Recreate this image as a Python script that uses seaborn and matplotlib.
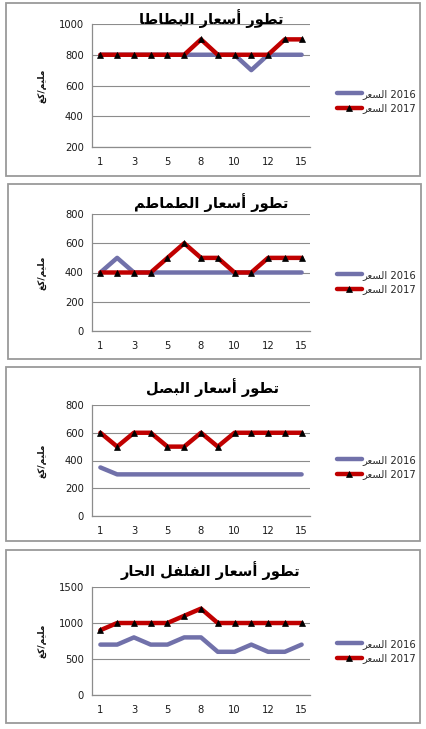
import re
import numpy as np
import pandas as pd
import seaborn as sns
import matplotlib
matplotlib.use("Agg")
import matplotlib.pyplot as plt
from matplotlib.patches import Rectangle

# ---------------------------------------------------------------- data
days = ["1", "2", "3", "4", "5", "7", "8", "9", "10", "11", "12", "14", "15"]
series_names = ["السعر 2016", "السعر 2017"]
y_label = "مليم/كغ"

titles = [
    "تطور أسعار البطاطا",
    "تطور أسعار الطماطم",
    "تطور أسعار البصل",
    "تطور أسعار الفلفل الحار",
]

potato_2016 = [800, 800, 800, 800, 800, 800, 800, 800, 800, 700, 800, 800, 800]
potato_2017 = [800, 800, 800, 800, 800, 800, 900, 800, 800, 800, 800, 900, 900]

tomato_2016 = [400, 500, 400, 400, 400, 400, 400, 400, 400, 400, 400, 400, 400]
tomato_2017 = [400, 400, 400, 400, 500, 600, 500, 500, 400, 400, 500, 500, 500]

onion_2016 = [350, 300, 300, 300, 300, 300, 300, 300, 300, 300, 300, 300, 300]
onion_2017 = [600, 500, 600, 600, 500, 500, 600, 500, 600, 600, 600, 600, 600]

pepper_2016 = [700, 700, 800, 700, 700, 800, 800, 600, 600, 700, 600, 600, 700]
pepper_2017 = [900, 1000, 1000, 1000, 1000, 1100, 1200, 1000, 1000, 1000, 1000, 1000, 1000]

y_ranges = [(200, 1000, 200), (0, 800, 200), (0, 800, 200), (0, 1500, 500)]

# ---------------------------------------------------------------- Arabic shaping
# (isolated, final, initial, medial) presentation forms; two entries = joins only to the right
FORMS = {
    "ا": (0xFE8D, 0xFE8E), "أ": (0xFE83, 0xFE84), "إ": (0xFE87, 0xFE88), "آ": (0xFE81, 0xFE82),
    "ب": (0xFE8F, 0xFE90, 0xFE91, 0xFE92), "ت": (0xFE95, 0xFE96, 0xFE97, 0xFE98),
    "ث": (0xFE99, 0xFE9A, 0xFE9B, 0xFE9C), "ج": (0xFE9D, 0xFE9E, 0xFE9F, 0xFEA0),
    "ح": (0xFEA1, 0xFEA2, 0xFEA3, 0xFEA4), "خ": (0xFEA5, 0xFEA6, 0xFEA7, 0xFEA8),
    "د": (0xFEA9, 0xFEAA), "ذ": (0xFEAB, 0xFEAC), "ر": (0xFEAD, 0xFEAE), "ز": (0xFEAF, 0xFEB0),
    "س": (0xFEB1, 0xFEB2, 0xFEB3, 0xFEB4), "ش": (0xFEB5, 0xFEB6, 0xFEB7, 0xFEB8),
    "ص": (0xFEB9, 0xFEBA, 0xFEBB, 0xFEBC), "ض": (0xFEBD, 0xFEBE, 0xFEBF, 0xFEC0),
    "ط": (0xFEC1, 0xFEC2, 0xFEC3, 0xFEC4), "ظ": (0xFEC5, 0xFEC6, 0xFEC7, 0xFEC8),
    "ع": (0xFEC9, 0xFECA, 0xFECB, 0xFECC), "غ": (0xFECD, 0xFECE, 0xFECF, 0xFED0),
    "ف": (0xFED1, 0xFED2, 0xFED3, 0xFED4), "ق": (0xFED5, 0xFED6, 0xFED7, 0xFED8),
    "ك": (0xFED9, 0xFEDA, 0xFEDB, 0xFEDC), "ل": (0xFEDD, 0xFEDE, 0xFEDF, 0xFEE0),
    "م": (0xFEE1, 0xFEE2, 0xFEE3, 0xFEE4), "ن": (0xFEE5, 0xFEE6, 0xFEE7, 0xFEE8),
    "ه": (0xFEE9, 0xFEEA, 0xFEEB, 0xFEEC), "و": (0xFEED, 0xFEEE),
    "ي": (0xFEF1, 0xFEF2, 0xFEF3, 0xFEF4), "ى": (0xFEEF, 0xFEF0), "ة": (0xFE93, 0xFE94),
}
LAM_ALEF = {"ا": (0xFEFB, 0xFEFC), "أ": (0xFEF7, 0xFEF8), "إ": (0xFEF9, 0xFEFA), "آ": (0xFEF5, 0xFEF6)}


def shape(text):
    out = []
    i = 0
    n = len(text)
    while i < n:
        c = text[i]
        if c not in FORMS:
            out.append(c)
            i += 1
            continue
        prev = text[i - 1] if i > 0 else None
        join_prev = prev in FORMS and len(FORMS[prev]) == 4
        if c == "ل" and i + 1 < n and text[i + 1] in LAM_ALEF:
            iso, fin = LAM_ALEF[text[i + 1]]
            out.append(chr(fin if join_prev else iso))
            i += 2
            continue
        nxt = text[i + 1] if i + 1 < n else None
        forms = FORMS[c]
        join_next = len(forms) == 4 and nxt in FORMS
        if join_prev and join_next:
            code = forms[3]
        elif join_prev:
            code = forms[1]
        elif join_next:
            code = forms[2]
        else:
            code = forms[0]
        out.append(chr(code))
        i += 1
    return "".join(out)


def rtl(text):
    """Right-to-left paragraph: whole line mirrored, digit runs kept left-to-right."""
    s = shape(text)[::-1]
    return re.sub(r"[0-9]+", lambda m: m.group(0)[::-1], s)


def ltr(text):
    """Left-to-right paragraph: only the Arabic runs are mirrored."""
    s = shape(text)
    return re.sub(r"[\u0600-\u06FF\uFE70-\uFEFF]+(?:[ /][\u0600-\u06FF\uFE70-\uFEFF]+)*",
                  lambda m: m.group(0)[::-1], s)


# ---------------------------------------------------------------- style
sns.set_style("white")
plt.rcParams["font.family"] = ["DejaVu Sans"]

W, H = 427, 729
fig = plt.figure(figsize=(W / 100, H / 100), dpi=100)
fig.patch.set_facecolor("white")


def fx(x):
    return x / W


def fy(y):
    return 1 - y / H


color_2016 = "#7171AA"
color_2017 = "#C00000"
grid_color = "#8C8C8C"

panels = [
    dict(box=(6, 3, 420, 176), ax=(92, 24, 310, 147), title=(211, 19), leg=(337, 101),
         data=(potato_2016, potato_2017)),
    dict(box=(8, 184, 421, 359), ax=(92, 214, 310, 331), title=(211, 203), leg=(337, 282),
         data=(tomato_2016, tomato_2017)),
    dict(box=(6, 367, 420, 541), ax=(92, 405, 310, 516), title=(213, 388), leg=(337, 467),
         data=(onion_2016, onion_2017)),
    dict(box=(6, 550, 420, 723), ax=(92, 587, 310, 695), title=(211, 571), leg=(337, 651),
         data=(pepper_2016, pepper_2017)),
]

positions = np.arange(len(days))

for p, title, (ymin, ymax, ystep) in zip(panels, titles, y_ranges):
    # chart frame
    x0, y0, x1, y1 = p["box"]
    fig.patches.append(Rectangle((fx(x0), fy(y1)), fx(x1 - x0), (y1 - y0) / H,
                                 transform=fig.transFigure, facecolor="none",
                                 edgecolor="#9A9A9A", linewidth=1.3, zorder=0))

    a0, b0, a1, b1 = p["ax"]
    ax = fig.add_axes([fx(a0), fy(b1), fx(a1 - a0), (b1 - b0) / H])
    ax.set_facecolor("none")

    v2016, v2017 = p["data"]
    df = pd.DataFrame({"pos": np.concatenate([positions, positions]),
                       "price": v2016 + v2017,
                       "series": [series_names[0]] * len(days) + [series_names[1]] * len(days)})

    sns.lineplot(data=df[df.series == series_names[0]], x="pos", y="price", ax=ax,
                 color=color_2016, linewidth=3.2, label=ltr(series_names[0]), zorder=3)
    sns.lineplot(data=df[df.series == series_names[1]], x="pos", y="price", ax=ax,
                 color=color_2017, linewidth=3.2, marker="^", markersize=4.5,
                 markerfacecolor="black", markeredgecolor="black", markeredgewidth=0.5,
                 label=ltr(series_names[1]), zorder=4)

    ax.set_xlim(-0.5, len(days) - 0.5)
    ax.set_ylim(ymin, ymax)
    ax.set_yticks(np.arange(ymin, ymax + 1, ystep))
    ax.yaxis.grid(True, color=grid_color, linewidth=0.8)
    ax.set_axisbelow(True)

    # category labels every other day, tick marks between categories
    ax.set_xticks(positions[::2])
    ax.set_xticklabels(days[::2])
    ax.set_xticks(np.arange(-0.5, len(days), 1), minor=True)
    ax.tick_params(axis="x", which="major", length=0, pad=7, labelsize=7.2, labelcolor="#1a1a1a")
    ax.tick_params(axis="x", which="minor", length=4, width=0.8, color=grid_color, direction="out")
    ax.tick_params(axis="y", which="major", length=4, width=0.8, color=grid_color,
                   direction="out", labelsize=7.2, labelcolor="#1a1a1a", pad=2)

    for side in ("top", "right"):
        ax.spines[side].set_visible(False)
    for side in ("left", "bottom"):
        ax.spines[side].set_color(grid_color)
        ax.spines[side].set_linewidth(0.9)

    ax.set_xlabel("")
    ax.set_ylabel(rtl(y_label), fontsize=6.5, fontweight="bold", color="#111111")
    ax.yaxis.set_label_coords((47 - a0) / (a1 - a0), 0.5)

    lx, ly = p["leg"]
    ax.legend(loc="center left", bbox_to_anchor=(fx(lx), fy(ly)),
              bbox_transform=fig.transFigure, frameon=False, fontsize=7.2,
              handlelength=2.5, handletextpad=0.05, labelspacing=0.45,
              borderaxespad=0, borderpad=0)

    fig.text(fx(p["title"][0]), fy(p["title"][1]), rtl(title), ha="center", va="center",
             fontsize=10.5, fontweight="bold", color="black")

fig.savefig("out.png", dpi=100, facecolor="white")
